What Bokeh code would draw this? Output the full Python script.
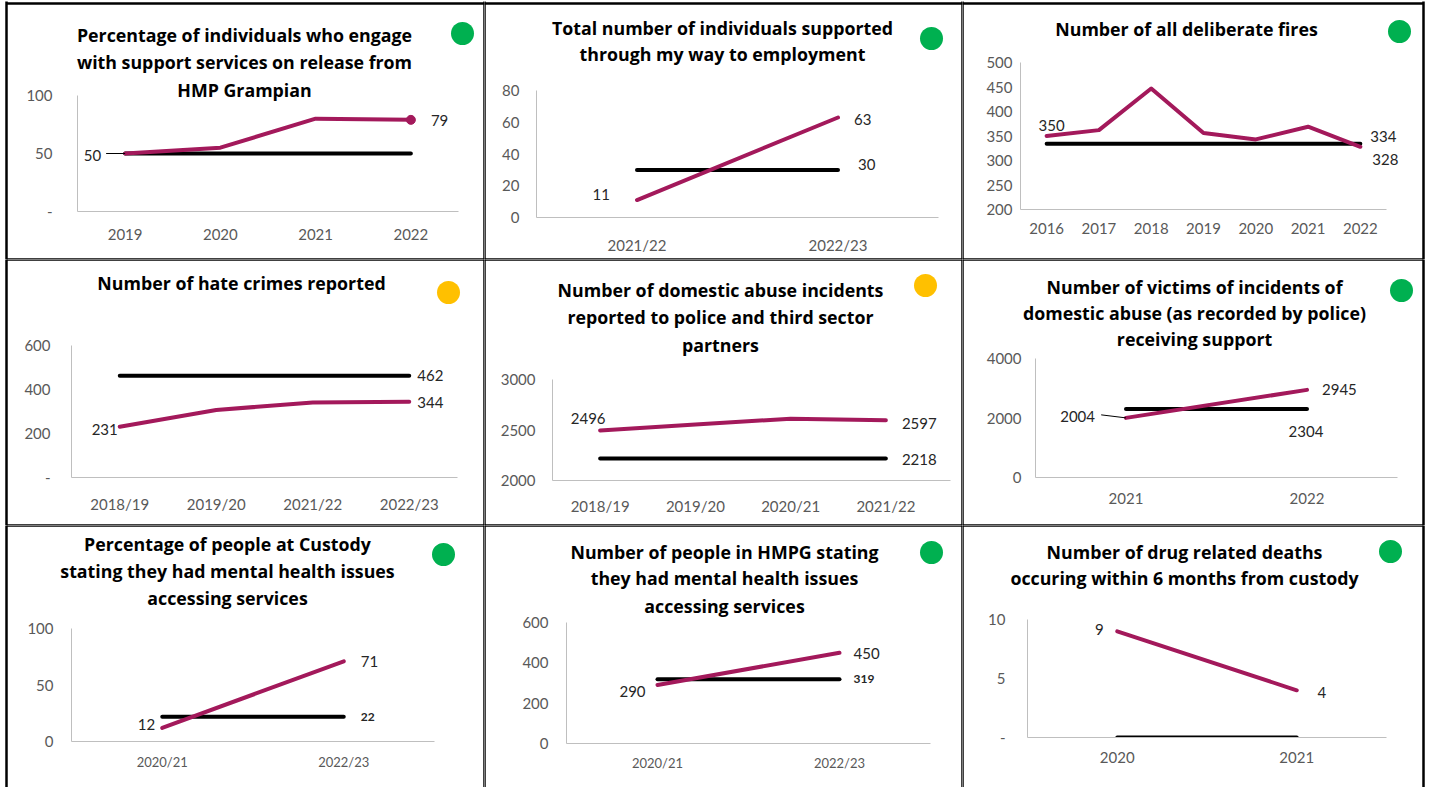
from bokeh.plotting import figure
from bokeh.models import Range1d, FixedTicker, ColumnDataSource, GridBox
from bokeh.embed import file_html
from bokeh.resources import INLINE
from bokeh.core.properties import value

# ---------------- data ----------------
c1_title = ["Percentage of individuals who engage", "with support services on release from", "HMP Grampian"]
c1_years = ["2019", "2020", "2021", "2022"]
c1_values = [50, 55, 80, 79]
c1_target = 50
c1_yticks = [0, 50, 100]
c1_ylabels = ["-", "50", "100"]
c1_status = "green"

c2_title = ["Total number of individuals supported", "through my way to employment"]
c2_years = ["2021/22", "2022/23"]
c2_values = [11, 63]
c2_target = 30
c2_yticks = [0, 20, 40, 60, 80]
c2_ylabels = ["0", "20", "40", "60", "80"]
c2_status = "green"

c3_title = ["Number of all deliberate fires"]
c3_years = ["2016", "2017", "2018", "2019", "2020", "2021", "2022"]
c3_values = [350, 362, 447, 356, 343, 369, 328]
c3_target = 334
c3_yticks = [200, 250, 300, 350, 400, 450, 500]
c3_ylabels = ["200", "250", "300", "350", "400", "450", "500"]
c3_status = "green"

c4_title = ["Number of hate crimes reported"]
c4_years = ["2018/19", "2019/20", "2021/22", "2022/23"]
c4_values = [231, 307, 341, 344]
c4_target = 462
c4_yticks = [0, 200, 400, 600]
c4_ylabels = ["-", "200", "400", "600"]
c4_status = "amber"

c5_title = ["Number of domestic abuse incidents", "reported to police and third sector", "partners"]
c5_years = ["2018/19", "2019/20", "2020/21", "2021/22"]
c5_values = [2496, 2554, 2612, 2597]
c5_target = 2218
c5_yticks = [2000, 2500, 3000]
c5_ylabels = ["2000", "2500", "3000"]
c5_status = "amber"

c6_title = ["Number of victims of incidents of", "domestic abuse (as recorded by police)", "receiving support"]
c6_years = ["2021", "2022"]
c6_values = [2004, 2945]
c6_target = 2304
c6_yticks = [0, 2000, 4000]
c6_ylabels = ["0", "2000", "4000"]
c6_status = "green"

c7_title = ["Percentage of people at Custody", "stating they had mental health issues", "accessing services"]
c7_years = ["2020/21", "2022/23"]
c7_values = [12, 71]
c7_target = 22
c7_yticks = [0, 50, 100]
c7_ylabels = ["0", "50", "100"]
c7_status = "green"

c8_title = ["Number of people in HMPG stating", "they had mental health issues", "accessing services"]
c8_years = ["2020/21", "2022/23"]
c8_values = [290, 450]
c8_target = 319
c8_yticks = [0, 200, 400, 600]
c8_ylabels = ["0", "200", "400", "600"]
c8_status = "green"

c9_title = ["Number of drug related deaths", "occuring within 6 months from custody"]
c9_years = ["2020", "2021"]
c9_values = [9, 4]
c9_target = 0
c9_yticks = [0, 5, 10]
c9_ylabels = ["-", "5", "10"]
c9_status = "green"

# ---------------- styles / layout ----------------
FONT = "Lato"
TITLE_FONT = "Open Sans"
TITLE_SIZE = "17.8px"
TICK_SIZE = "15px"
LABEL_SIZE = "15px"
MAGENTA = "#A3195B"
STATUS_COLORS = {"green": "#00B050", "amber": "#FFC000"}
TICK_COLOR = "#595959"
LABEL_COLOR = "#262626"
AXIS_COLOR = "#BFBFBF"

COL_X = [0, 484, 962]
COL_W = [484, 478, 466]
ROW_Y = [0, 259, 525]
ROW_H = [259, 266, 262]
# table rules (page coordinates)
V_RULES = [6, 484, 962, 1423]
H_RULES = [3, 259, 525]

# fl: frame left, be: end of category bands, ae: end of x-axis line, ft/fb: frame top/bottom
# label spec: (series, index, align, dx, dy, size, bold)
geoms = [
    dict(fl=77, be=458, ae=458, ft=95, fb=211, tx=244, ty=[34, 61, 89], dot=(462, 33),
         xstd=17, ystd=25, xfs=TICK_SIZE, marker=True, leader=(0, 19, 3.1416),
         labels=[("v", -1, "left", 20, 1, LABEL_SIZE, False), ("v", 0, "right", -24, 2, LABEL_SIZE, False)]),
    dict(fl=52, be=454, ae=454, ft=90, fb=217, tx=238, ty=[27, 53], dot=(447, 38),
         xstd=18, ystd=17, xfs=TICK_SIZE,
         labels=[("v", 0, "right", -27, -6, LABEL_SIZE, False), ("v", -1, "left", 16, 2, LABEL_SIZE, False),
                 ("t", -1, "left", 20, -5, LABEL_SIZE, False)]),
    dict(fl=58, be=424, ae=424, ft=62, fb=209, tx=224, ty=[28], dot=(437, 31),
         xstd=13, ystd=8, xfs=TICK_SIZE,
         labels=[("v", 0, "center", 5, -11, LABEL_SIZE, False), ("t", -1, "left", 10, -7, LABEL_SIZE, False),
                 ("v", -1, "left", 12, 13, LABEL_SIZE, False)]),
    dict(fl=71, be=457, ae=457, ft=86, fb=218, tx=241, ty=[23], dot=(448, 33),
         xstd=17, ystd=21, xfs=TICK_SIZE,
         labels=[("v", 0, "right", -2, 3, LABEL_SIZE, False), ("t", -1, "left", 8, 0, LABEL_SIZE, False),
                 ("v", -1, "left", 8, 1, LABEL_SIZE, False)]),
    dict(fl=68, be=449, ae=466, ft=120, fb=221, tx=236, ty=[30, 57, 85], dot=(441, 26),
         xstd=16, ystd=17, xfs=TICK_SIZE,
         labels=[("v", 0, "center", -12, -12, LABEL_SIZE, False), ("v", -1, "left", 16, 3, LABEL_SIZE, False),
                 ("t", -1, "left", 16, 1, LABEL_SIZE, False)]),
    dict(fl=73, be=435, ae=435, ft=99, fb=218, tx=232, ty=[27, 53, 79], dot=(439, 31),
         xstd=15, ystd=14, xfs=TICK_SIZE, leader=(0, 25, 3.02),
         labels=[("v", 0, "right", -31, -1, LABEL_SIZE, False), ("v", -1, "left", 15, 0, LABEL_SIZE, False),
                 ("t", -1, "center", -1, 23, LABEL_SIZE, False)]),
    dict(fl=71, be=434, ae=434, ft=103, fb=216, tx=227, ty=[18, 45, 72], dot=(443, 29),
         xstd=12, ystd=18, xfs="13px",
         labels=[("v", 0, "right", -7, -3, LABEL_SIZE, False), ("v", -1, "left", 17, 0, LABEL_SIZE, False),
                 ("t", -1, "left", 17, 0, "12px", True)]),
    dict(fl=82, be=446, ae=446, ft=97, fb=218, tx=240, ty=[26, 52, 80], dot=(447, 27),
         xstd=11, ystd=18, xfs="13px",
         labels=[("v", 0, "center", -25, 6, LABEL_SIZE, False), ("v", -1, "left", 14, 1, LABEL_SIZE, False),
                 ("t", -1, "left", 14, 0, "12px", True)]),
    dict(fl=65, be=424, ae=424, ft=94, fb=212, tx=222, ty=[26, 52], dot=(428, 26),
         xstd=14, ystd=22, xfs=TICK_SIZE,
         labels=[("v", 0, "center", -18, -2, LABEL_SIZE, False), ("v", -1, "center", 25, 2, LABEL_SIZE, False)]),
]

datasets = [
    (c1_title, c1_years, c1_values, c1_target, c1_yticks, c1_ylabels, c1_status),
    (c2_title, c2_years, c2_values, c2_target, c2_yticks, c2_ylabels, c2_status),
    (c3_title, c3_years, c3_values, c3_target, c3_yticks, c3_ylabels, c3_status),
    (c4_title, c4_years, c4_values, c4_target, c4_yticks, c4_ylabels, c4_status),
    (c5_title, c5_years, c5_values, c5_target, c5_yticks, c5_ylabels, c5_status),
    (c6_title, c6_years, c6_values, c6_target, c6_yticks, c6_ylabels, c6_status),
    (c7_title, c7_years, c7_values, c7_target, c7_yticks, c7_ylabels, c7_status),
    (c8_title, c8_years, c8_values, c8_target, c8_yticks, c8_ylabels, c8_status),
    (c9_title, c9_years, c9_values, c9_target, c9_yticks, c9_ylabels, c9_status),
]


def make_background(data, g, ox, oy, W, H):
    title, status = data[0], data[6]
    b = figure(width=W, height=H, x_range=Range1d(0, W), y_range=Range1d(H, 0),
               output_backend="svg", toolbar_location=None, min_border=0,
               x_axis_location=None, y_axis_location=None, frame_align=False)
    b.grid.visible = False
    b.outline_line_color = None
    b.background_fill_color = "white"
    b.border_fill_color = "white"
    xs = [[x - ox, x - ox] for x in V_RULES] + [[V_RULES[0] - ox, V_RULES[-1] - ox] for _ in H_RULES]
    ys = [[H_RULES[0] - oy - 2, 800 - oy] for _ in V_RULES] + [[y - oy, y - oy] for y in H_RULES]
    b.multi_line(xs=xs, ys=ys, line_color="black", line_width=2.5)
    b.text(x=[g["tx"]] * len(title), y=g["ty"][:len(title)], text=title,
           text_align="center", text_baseline="middle", text_font=value(TITLE_FONT),
           text_font_style="bold", text_font_size=TITLE_SIZE, text_color="black")
    cx, cy = g["dot"]
    b.scatter(x=[cx], y=[cy], size=23, fill_color=STATUS_COLORS[status], line_color=None)
    return b


def make_chart(data, g, W, H):
    title, cats, vals, target, yticks, ylabels, status = data
    n = len(cats)
    fr = W - 3
    band = (g["be"] - g["fl"]) / n
    xs = list(range(n))
    p = figure(width=W, height=H,
               x_range=Range1d(-0.5, -0.5 + (fr - g["fl"]) / band),
               y_range=Range1d(yticks[0], yticks[-1]),
               output_backend="svg", toolbar_location=None, frame_align=False,
               min_border_left=g["fl"], min_border_right=W - fr,
               min_border_top=g["ft"], min_border_bottom=H - g["fb"])
    p.xgrid.visible = False
    p.ygrid.visible = False
    p.outline_line_color = None
    p.background_fill_color = None
    p.border_fill_color = None

    xa = p.xaxis[0]
    xa.ticker = FixedTicker(ticks=xs)
    xa.major_label_overrides = {i: c for i, c in zip(xs, cats)}
    xa.bounds = (-0.5, -0.5 + (g["ae"] - g["fl"]) / band)
    xa.axis_line_color = AXIS_COLOR
    xa.major_tick_line_color = None
    xa.minor_tick_line_color = None
    xa.major_tick_out = 0
    xa.major_tick_in = 0
    xa.major_label_standoff = g["xstd"]
    xa.major_label_text_font = FONT
    xa.major_label_text_font_size = g["xfs"]
    xa.major_label_text_color = TICK_COLOR

    ya = p.yaxis[0]
    ya.ticker = FixedTicker(ticks=yticks)
    ya.major_label_overrides = {t: l for t, l in zip(yticks, ylabels)}
    ya.axis_line_color = AXIS_COLOR
    ya.major_tick_line_color = None
    ya.minor_tick_line_color = None
    ya.major_tick_out = 0
    ya.major_tick_in = 0
    ya.major_label_standoff = g["ystd"]
    ya.major_label_text_font = FONT
    ya.major_label_text_font_size = TICK_SIZE
    ya.major_label_text_color = TICK_COLOR

    src = ColumnDataSource(dict(x=xs, v=vals, t=[target] * n))
    p.line("x", "t", source=src, line_color="black", line_width=4, line_cap="round")
    p.line("x", "v", source=src, line_color=MAGENTA, line_width=4, line_cap="round", line_join="round")
    if g.get("marker"):
        p.scatter(x=[xs[-1]], y=[vals[-1]], size=9, color=MAGENTA)
    if g.get("leader"):
        i, ln, ang = g["leader"]
        p.ray(x=[xs[i]], y=[vals[i]], length=ln, length_units="screen", angle=ang,
              line_color="black", line_width=1)

    for series, idx, align, dx, dy, fs, bold in g["labels"]:
        yv = vals[idx] if series == "v" else target
        p.text(x=[xs[idx]], y=[yv], text=[str(yv)], x_offset=dx, y_offset=dy,
               text_align=align, text_baseline="middle", text_font=value(FONT),
               text_font_size=fs, text_color=LABEL_COLOR,
               text_font_style="bold" if bold else "normal")
    return p


children = []
for k, (d, g) in enumerate(zip(datasets, geoms)):
    r, c = divmod(k, 3)
    W, H = COL_W[c], ROW_H[r]
    children.append((make_background(d, g, COL_X[c], ROW_Y[r], W, H), r, c))
    children.append((make_chart(d, g, W, H), r, c))

grid = GridBox(children=children, spacing=0)

open("out.html", "w").write(file_html(grid, INLINE))
